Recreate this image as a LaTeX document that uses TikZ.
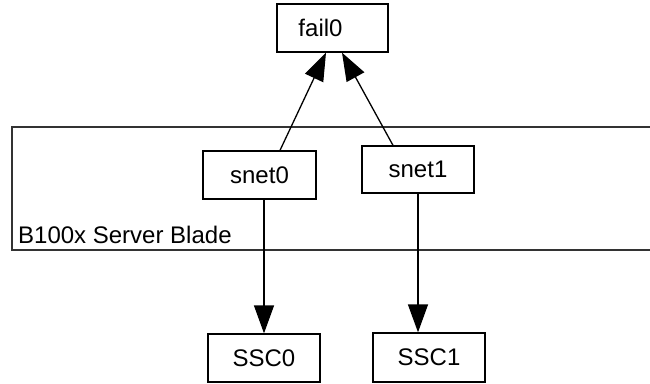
\documentclass[tikz,border=0pt]{standalone}
\usepackage{fontspec}
\setmainfont{Liberation Sans}
\usetikzlibrary{arrows.meta}
\begin{document}
\begin{tikzpicture}[x=1pt,y=-1pt,
  box/.style={draw=black,line width=1.3pt,fill=white,inner sep=0pt,
    font=\fontsize{24}{28}\selectfont},
  arr/.style={line width=1.3pt,draw=black,-{Triangle[length=28pt,width=20pt]}},
  blade/.style={draw=black!80,line width=2pt},
  lbl/.style={inner sep=0pt,font=\fontsize{24}{28}\selectfont}]
\useasboundingbox (0,0) rectangle (650,383);
% container
\coordinate (bTR) at (652,127);
\coordinate (bTL) at (12,127);
\coordinate (bBL) at (12,250);
\coordinate (bBR) at (652,250);
\draw[blade] (bTR) -- (bTL) -- (bBL) -- (bBR);
\node[lbl,anchor=base west] (bladelbl) at (18,243) {B100x Server Blade};
% nodes
\node[box,minimum width=111pt,minimum height=48pt] (fail0) at (332.5,28) {\hspace*{-24pt}fail0};
\node[box,minimum width=113pt,minimum height=48pt] (snet0) at (259.5,175) {snet0};
\node[box,minimum width=112pt,minimum height=47pt] (snet1) at (418,169.5) {snet1};
\node[box,minimum width=112pt,minimum height=48pt] (ssc0) at (264,358) {SSC0};
\node[box,minimum width=112pt,minimum height=49pt] (ssc1) at (429,357.5) {SSC1};
% connectors
\draw[arr] ([xshift=20.5pt]snet0.north) -- ([xshift=-6.5pt]fail0.south);
\draw[arr] ([xshift=-25pt]snet1.north) -- ([xshift=9.5pt]fail0.south);
\draw[arr] (snet0.south -| ssc0.north) -- (ssc0.north);
\draw[arr] (snet1.south) -- (snet1.south |- ssc1.north);
\end{tikzpicture}
\end{document}
